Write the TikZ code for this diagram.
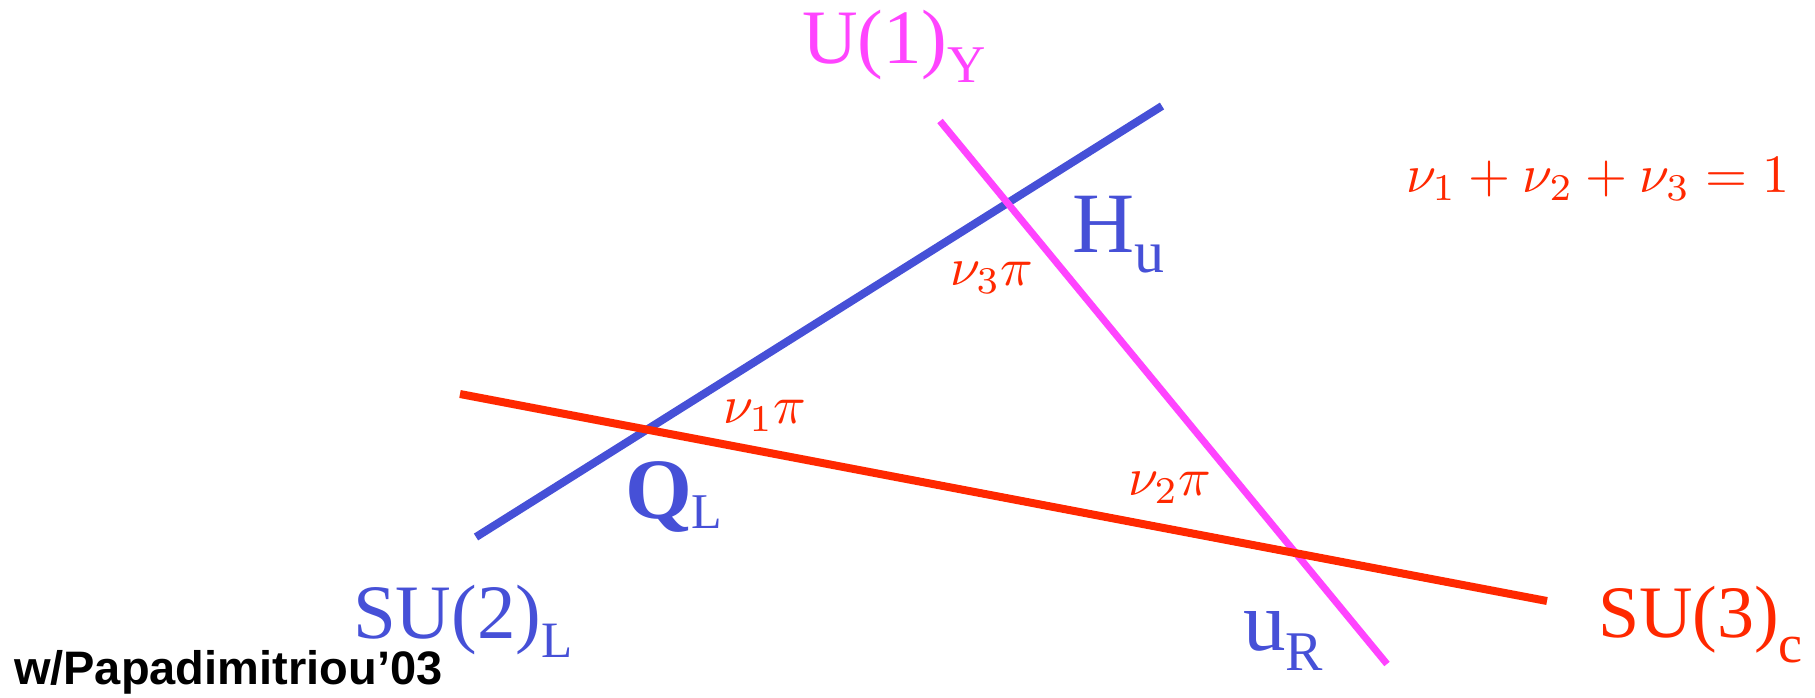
\documentclass[tikz,border=0pt]{standalone}
\usepackage{graphicx}
\usepackage{fontspec}
\setmainfont{Liberation Serif}
\newfontfamily\labsans{Liberation Sans}
\definecolor{gblue}{RGB}{70,80,215}
\definecolor{gred}{RGB}{255,40,0}
\definecolor{gmag}{RGB}{255,68,255}
\newcommand{\glab}[5]{{\fontsize{#1}{#1}\selectfont #2}{\fontsize{#3}{#3}\selectfont\raisebox{-#5pt}{#4}}}
\newcommand{\bigmath}[1]{\scalebox{5.4}{\fontsize{10}{12}\selectfont$#1$}}
\begin{document}
\begin{tikzpicture}[x=1pt,y=-1pt,
  lbl/.style={inner sep=0pt,outer sep=0pt,anchor=base west},
  mathlbl/.style={lbl,text=gred},
  lineblue/.style={draw=gblue,line width=8pt},
  linered/.style={draw=gred,line width=8pt},
  linemag/.style={draw=gmag,line width=7pt}]
\useasboundingbox (0,0) rectangle (1815,697);
% line end points
\coordinate (b1) at (476,537);
\coordinate (b2) at (1162,106);
\coordinate (m1) at (940,121);
\coordinate (m2) at (1387,664);
\coordinate (r1) at (460,394);
\coordinate (r2) at (1547,601);
\draw[lineblue] (b1) -- (b2);
\draw[linemag] (m1) -- (m2);
\draw[linered] (r1) -- (r2);
% labels
\node[lbl,text=gmag] (uy) at (802,63) {\glab{77}{U(1)}{53}{Y}{19}};
\node[lbl,text=gblue] (hu) at (1072,252) {\glab{86}{H}{60}{u}{20}};
\node[lbl,text=gblue] (ql) at (625,518) {\glab{86}{\bfseries Q}{50}{L}{10}};
\node[lbl,text=gblue] (su2) at (353,638) {\glab{77}{SU(2)}{51}{L}{19}};
\node[lbl,text=gred] (su3) at (1598,637) {\glab{74}{SU(3)}{54}{c}{25}};
\node[lbl,text=gblue] (ur) at (1243,650) {\glab{85}{u}{56}{R}{20}};
\node[mathlbl] (n1) at (723,423) {\bigmath{\nu_1\pi}};
\node[mathlbl] (n2) at (1128,495) {\bigmath{\nu_2\pi}};
\node[mathlbl] (n3) at (950,285) {\bigmath{\nu_3\pi}};
\node[mathlbl] (eq) at (1406,192) {\bigmath{\nu_1+\nu_2+\nu_3=1}};
\node[lbl,font=\labsans\bfseries\fontsize{47}{47}\selectfont] (ref) at (14,684) {w/Papadimitriou’03};
\end{tikzpicture}
\end{document}
